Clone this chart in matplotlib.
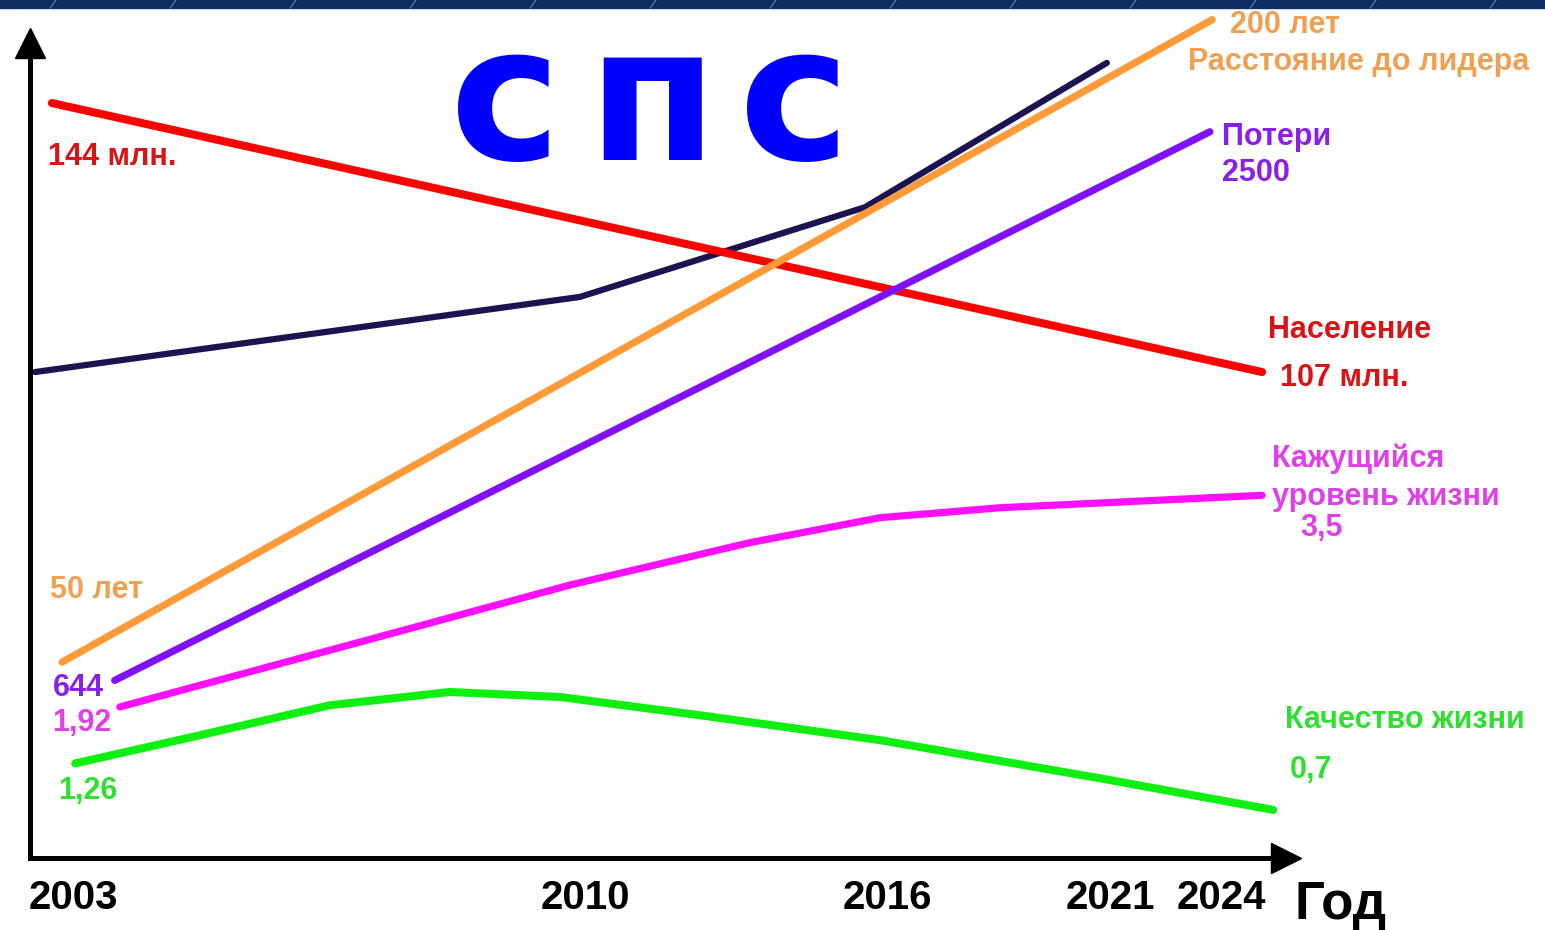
import numpy as np
import matplotlib.pyplot as plt
from matplotlib.lines import Line2D
from matplotlib.patches import Rectangle

# years on the x axis are not evenly spaced in the picture
tick_years = [2003, 2010, 2016, 2021, 2024]
tick_labels = ["2003", "2010", "2016", "2021", "2024"]

# series (x = year, y = relative level 0..100)
naselenie_x = [2002.71, 2025.11]
naselenie_y = [90.96, 58.55]

rasstoyanie_x = [2002.85, 2023.76]
rasstoyanie_y = [23.6, 101.0]

poteri_x = [2003.57, 2023.70]
poteri_y = [21.4, 87.5]

temnaya_x = [2002.48, 2009.93, 2015.56, 2020.93]
temnaya_y = [58.55, 67.6, 78.4, 95.8]

kazhush_x = [2003.64, 2006.79, 2009.80, 2013.28, 2015.86, 2018.53, 2025.11]
kazhush_y = [18.2, 25.7, 32.9, 38.0, 41.0, 42.2, 43.7]

kachestvo_x = [2003.03, 2004.74, 2006.51, 2008.15, 2009.66, 2012.28, 2015.86, 2020.78, 2025.41]
kachestvo_y = [11.4, 14.8, 18.4, 20.0, 19.4, 17.2, 14.2, 9.6, 5.8]

W, H = 1545, 930

# piecewise scale: year -> horizontal position
anchor_years = np.array([1990, 2003, 2010, 2016, 2021, 2024, 2040], dtype=float)
anchor_pos = np.array([-876, 73, 585, 887, 1110, 1221, 1813], dtype=float)

def fwd(x):
    return np.interp(x, anchor_years, anchor_pos)

def inv(p):
    return np.interp(p, anchor_pos, anchor_years)

def px(x, y):
    return x / W, 1 - y / H

fig = plt.figure(figsize=(W / 100, H / 100), dpi=100)
fig.patch.set_facecolor("white")

# dark band on top of the slide
fig.add_artist(Rectangle((0, 1 - 8 / H), 1, 8 / H, transform=fig.transFigure,
                         color="#0f2f63", zorder=0))
for xd in range(50, 1545, 120):
    x0, y0 = px(xd, 8)
    x1, y1 = px(xd + 6, 0)
    fig.add_artist(Line2D([x0, x1], [y0, y1], transform=fig.transFigure,
                          color="#5d7fb4", lw=0.8))

left, right, top, bottom = 30, 1286, 43, 858
ax = fig.add_axes([left / W, (H - bottom) / H, (right - left) / W, (bottom - top) / H])
ax.set_xscale("function", functions=(fwd, inv))
ax.set_xlim(inv(left), inv(right))
ax.set_ylim(0, (bottom - top) / 8.3)

for s in ["top", "right"]:
    ax.spines[s].set_visible(False)
for s in ["left", "bottom"]:
    ax.spines[s].set_linewidth(3.6)
    ax.spines[s].set_color("black")
ax.plot(1, 0, ">k", transform=ax.transAxes, clip_on=False, markersize=22)
ax.plot(0, 1, "^k", transform=ax.transAxes, clip_on=False, markersize=22)

ax.set_yticks([])
ax.set_xticks(tick_years, tick_labels)
ax.tick_params(axis="x", length=0, pad=15)
for t in ax.get_xticklabels():
    t.set_fontsize(29)
    t.set_fontweight("bold")
    t.set_family("Liberation Sans")

kw = dict(solid_capstyle="round", solid_joinstyle="round", clip_on=False)
ax.plot(temnaya_x, temnaya_y, color="#1c1450", lw=4.5, zorder=2, **kw)
ax.plot(naselenie_x, naselenie_y, color="#ff0000", lw=5.8, zorder=3, **kw)
ax.plot(rasstoyanie_x, rasstoyanie_y, color="#ff9a38", lw=5.2, zorder=4, **kw)
ax.plot(poteri_x, poteri_y, color="#8010ff", lw=5.2, zorder=4, **kw)
ax.plot(kazhush_x, kazhush_y, color="#ff10ff", lw=5.2, zorder=4, **kw)
ax.plot(kachestvo_x, kachestvo_y, color="#10f010", lw=5.8, zorder=4, **kw)

# title, letters spaced out like the pixel font in the picture
for letter, xc in zip("спс", [506, 652, 795]):
    fig.text(*px(xc, 108), letter, color="#0000ff", fontsize=135, fontweight="bold",
             family="DejaVu Sans", ha="center", va="center")

fig.text(*px(1295, 905), "Год", fontsize=38, fontweight="bold",
         family="Liberation Sans", ha="left", va="center")

lab = dict(fontweight="bold", family="Liberation Sans", ha="left", va="center", fontsize=22)
red, orange, purple, mag, green = "#d81414", "#f0a050", "#8a20e8", "#e040e8", "#30e030"

fig.text(*px(48, 157), "144 млн.", color=red, **lab)
fig.text(*px(1268, 330), "Население", color=red, **lab)
fig.text(*px(1280, 378), "107 млн.", color=red, **lab)

fig.text(*px(1230, 25), "200 лет", color=orange, **lab)
fig.text(*px(1188, 62), "Расстояние до лидера", color=orange, **lab)
fig.text(*px(50, 590), "50 лет", color=orange, **lab)

fig.text(*px(1222, 137), "Потери", color=purple, **lab)
fig.text(*px(1222, 173), "2500", color=purple, **lab)
fig.text(*px(53, 688), "644", color=purple, **lab)

fig.text(*px(1272, 459), "Кажущийся", color=mag, **lab)
fig.text(*px(1272, 497), "уровень жизни", color=mag, **lab)
fig.text(*px(1300, 528), "3,5", color=mag, **lab)
fig.text(*px(52, 723), "1,92", color=mag, **lab)

fig.text(*px(1285, 720), "Качество жизни", color=green, **lab)
fig.text(*px(1290, 770), "0,7", color=green, **lab)
fig.text(*px(58, 791), "1,26", color=green, **lab)

fig.savefig("out.png", dpi=100)
